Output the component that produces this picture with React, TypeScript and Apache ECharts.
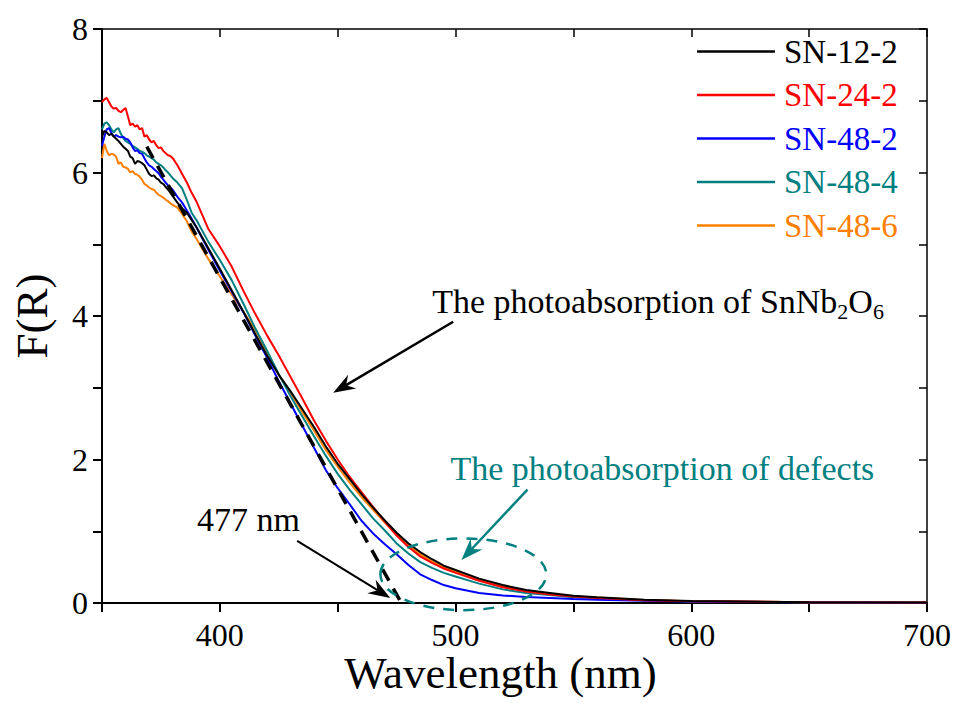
import React, { useEffect, useRef } from "react";
import * as echarts from "echarts";

const FONT = '"Liberation Serif", "Times New Roman", Times, serif';

// Wavelength grid (nm)
const wavelengths = [
  350, 351, 352, 353, 354, 355, 356, 357, 358, 359, 360, 361, 362, 363, 364, 365, 366, 367, 368, 369, 370,
  371, 372, 373, 374, 375, 376, 377, 378, 379, 380, 382, 384, 386, 388, 390,
  395, 400, 405, 410, 415, 420, 425, 430, 435, 440, 445, 450, 455, 460, 465, 470, 475, 480, 485, 490, 495, 500,
  510, 520, 530, 540, 550, 560, 580, 600, 650, 700,
];

const sn12_2 = [
  6.5, 6.58, 6.56, 6.52, 6.54, 6.5, 6.47, 6.44, 6.4, 6.36, 6.33, 6.3, 6.22, 6.2, 6.12, 6.16, 6.15, 6.13, 6.1, 6.04, 5.98,
  5.95, 5.96, 5.92, 5.9, 5.86, 5.84, 5.8, 5.76, 5.72, 5.67, 5.58, 5.5, 5.44, 5.34, 5.24,
  4.95, 4.66, 4.36, 4.06, 3.75, 3.45, 3.18, 2.95, 2.7, 2.45, 2.18, 1.94, 1.73, 1.52, 1.33, 1.15, 0.98, 0.83, 0.71, 0.61, 0.52, 0.46,
  0.34, 0.25, 0.18, 0.14, 0.1, 0.08, 0.045, 0.028, 0.012, 0.006,
];
const sn24_2 = [
  6.98, 7.02, 7.04, 6.98, 6.92, 6.89, 6.9, 6.86, 6.84, 6.87, 6.9, 6.78, 6.66, 6.68, 6.64, 6.66, 6.6, 6.62, 6.5, 6.52, 6.46,
  6.42, 6.44, 6.38, 6.34, 6.35, 6.3, 6.27, 6.24, 6.23, 6.2, 6.1, 5.98, 5.86, 5.72, 5.6,
  5.22, 4.97, 4.69, 4.35, 4.03, 3.73, 3.45, 3.15, 2.85, 2.54, 2.26, 2.0, 1.76, 1.55, 1.34, 1.13, 0.94, 0.78, 0.65, 0.56, 0.48, 0.42,
  0.31, 0.22, 0.16, 0.12, 0.09, 0.07, 0.04, 0.025, 0.012, 0.006,
];
const sn48_2 = [
  6.37, 6.5, 6.6, 6.62, 6.55, 6.5, 6.52, 6.5, 6.49, 6.5, 6.47, 6.46, 6.42, 6.35, 6.3, 6.31, 6.27, 6.26, 6.2, 6.14, 6.1,
  6.08, 6.05, 6.02, 5.99, 5.94, 5.9, 5.86, 5.82, 5.79, 5.76, 5.66, 5.58, 5.47, 5.36, 5.24,
  4.93, 4.63, 4.34, 4.05, 3.73, 3.42, 3.09, 2.78, 2.47, 2.16, 1.85, 1.6, 1.38, 1.15, 0.97, 0.82, 0.68, 0.53, 0.4, 0.32, 0.25, 0.205,
  0.14, 0.105, 0.085, 0.07, 0.055, 0.045, 0.03, 0.02, 0.01, 0.005,
];
const sn48_4 = [
  6.6, 6.68, 6.7, 6.66, 6.6, 6.56, 6.6, 6.62, 6.54, 6.48, 6.44, 6.42, 6.4, 6.37, 6.35, 6.33, 6.3, 6.29, 6.27, 6.24, 6.22,
  6.2, 6.18, 6.14, 6.12, 6.1, 6.07, 6.03, 6.0, 5.96, 5.92, 5.86, 5.78, 5.62, 5.44, 5.34,
  5.04, 4.78, 4.5, 4.17, 3.83, 3.52, 3.19, 2.88, 2.6, 2.32, 2.05, 1.8, 1.58, 1.38, 1.18, 1.01, 0.83, 0.69, 0.57, 0.49, 0.42, 0.37,
  0.27, 0.19, 0.14, 0.11, 0.08, 0.065, 0.04, 0.022, 0.01, 0.005,
];
const sn48_6 = [
  6.2, 6.4, 6.3, 6.24, 6.26, 6.25, 6.22, 6.12, 6.14, 6.08, 6.07, 6.05, 6.0, 6.02, 5.98, 5.97, 5.94, 5.9, 5.84, 5.82, 5.79,
  5.77, 5.76, 5.72, 5.69, 5.67, 5.65, 5.62, 5.6, 5.57, 5.55, 5.51, 5.42, 5.32, 5.18, 5.08,
  4.8, 4.55, 4.3, 4.06, 3.81, 3.5, 3.18, 2.93, 2.66, 2.4, 2.13, 1.9, 1.68, 1.48, 1.3, 1.12, 0.95, 0.8, 0.68, 0.58, 0.5, 0.44,
  0.32, 0.23, 0.17, 0.13, 0.095, 0.075, 0.042, 0.026, 0.011, 0.006,
];

const seriesNames = ["SN-12-2", "SN-24-2", "SN-48-2", "SN-48-4", "SN-48-6"];
const seriesColors = ["#000000", "#ff0000", "#0000ff", "#008080", "#ff8000"];
const seriesValues = [sn12_2, sn24_2, sn48_2, sn48_4, sn48_6];

// Tangent (band-gap extrapolation) line, in data units
const tangentLine = [
  [369, 6.36],
  [477, 0],
];

// Annotation anchors (data units)
const bandGapLabel = "477 nm";
const bandGapLabelAt = [390.3, 1.16];
const bandGapArrow = [
  [432.8, 0.865],
  [472.3, 0.07],
];
const hostLabelAt = [490.1, 4.2];
const hostArrow = [
  [499, 3.92],
  [448.1, 2.93],
];
const defectLabel = "The photoabsorption of defects";
const defectLabelAt = [497.8, 1.88];
const defectArrow = [
  [530.5, 1.58],
  [502.5, 0.6],
];
const defectEllipse = { center: [503.3, 0.4], rx: 35.2, ry: 0.5 };

const TEAL = "#008080";

function arrowElems(p0: number[], p1: number[], color: string, width: number) {
  const dx = p1[0] - p0[0];
  const dy = p1[1] - p0[1];
  const L = Math.hypot(dx, dy);
  const ux = dx / L;
  const uy = dy / L;
  const nx = -uy;
  const ny = ux;
  const headLen = 22;
  const headW = 8;
  const notch = 7;
  const bx = p1[0] - ux * headLen;
  const by = p1[1] - uy * headLen;
  const mx = p1[0] - ux * (headLen - notch);
  const my = p1[1] - uy * (headLen - notch);
  return [
    {
      type: "line",
      silent: true,
      shape: { x1: p0[0], y1: p0[1], x2: mx, y2: my },
      style: { stroke: color, lineWidth: width },
    },
    {
      type: "polygon",
      silent: true,
      shape: {
        points: [
          [p1[0], p1[1]],
          [bx + nx * headW, by + ny * headW],
          [mx, my],
          [bx - nx * headW, by - ny * headW],
        ],
      },
      style: { fill: color },
    },
  ];
}

function measure(text: string, size: number) {
  const c = document.createElement("canvas").getContext("2d");
  if (!c) return text.length * size * 0.45;
  c.font = `${size}px ${FONT}`;
  return c.measureText(text).width;
}

export default function App() {
  const ref = useRef<HTMLDivElement>(null);

  useEffect(() => {
    if (!ref.current) return;
    const chart = echarts.init(ref.current, undefined, { renderer: "svg" });

    const series: any[] = seriesNames.map((name, i) => ({
      name,
      type: "line",
      xAxisIndex: 0,
      yAxisIndex: 0,
      showSymbol: false,
      symbol: "none",
      smooth: false,
      data: wavelengths.map((w, j) => [w, seriesValues[i][j]]),
      lineStyle: { color: seriesColors[i], width: 2 },
      itemStyle: { color: seriesColors[i] },
      z: 2 + (seriesNames.length - i),
    }));
    series.push({
      name: "tangent",
      type: "line",
      showSymbol: false,
      symbol: "none",
      data: tangentLine,
      lineStyle: { color: "#000", width: 3.5, type: [13, 9] },
      z: 10,
      silent: true,
    });

    const axisFont = { fontFamily: FONT, color: "#000" };

    chart.setOption({
      animation: false,
      backgroundColor: "#ffffff",
      grid: {
        left: 102,
        right: 29,
        top: 29,
        bottom: 100,
        containLabel: false,
        outerBoundsMode: "none",
      },
      legend: {
        data: seriesNames.map((n, i) => ({ name: n, textStyle: { color: seriesColors[i] } })),
        orient: "vertical",
        left: 692,
        top: 30,
        icon: "rect",
        itemWidth: 78,
        itemHeight: 2.5,
        itemGap: 10.5,
        textStyle: { fontSize: 33, fontFamily: FONT, lineHeight: 33, padding: [0, 0, 0, 4] },
        selectedMode: false,
      },
      xAxis: [
        {
          type: "value",
          min: 350,
          max: 700,
          interval: 50,
          position: "bottom",
          name: "Wavelength (nm)",
          nameLocation: "middle",
          nameGap: 47,
          nameMoveOverlap: false,
          nameTextStyle: { fontSize: 45, lineHeight: 45, ...axisFont, padding: [0, 28, 0, 0] },
          axisLine: { show: true, onZero: false, lineStyle: { color: "#000", width: 2 } },
          axisTick: { show: true, inside: false, length: 9, lineStyle: { color: "#000", width: 2 } },
          axisLabel: {
            fontSize: 32,
            lineHeight: 32,
            ...axisFont,
            margin: 16,
            showMaxLabel: true,
            showMinLabel: true,
            formatter: (v: number) => (v % 100 === 0 ? String(v) : ""),
          },
          splitLine: { show: false },
        },
        {
          type: "value",
          min: 350,
          max: 700,
          interval: 50,
          position: "top",
          axisLine: { show: true, onZero: false, lineStyle: { color: "#000", width: 1.5 } },
          axisTick: { show: true, inside: true, length: 8, lineStyle: { color: "#000", width: 1.5 } },
          axisLabel: { show: false },
          splitLine: { show: false },
        },
      ],
      yAxis: [
        {
          type: "value",
          min: 0,
          max: 8,
          interval: 1,
          position: "left",
          name: "F(R)",
          nameLocation: "middle",
          nameGap: 48,
          nameRotate: 90,
          nameMoveOverlap: false,
          nameTextStyle: { fontSize: 45, ...axisFont },
          axisLine: { show: true, onZero: false, lineStyle: { color: "#000", width: 2 } },
          axisTick: { show: true, inside: false, length: 9, lineStyle: { color: "#000", width: 2 } },
          axisLabel: {
            fontSize: 32,
            ...axisFont,
            margin: 14,
            showMaxLabel: true,
            formatter: (v: number) => (v % 2 === 0 ? String(v) : ""),
          },
          splitLine: { show: false },
        },
        {
          type: "value",
          min: 0,
          max: 8,
          interval: 1,
          position: "right",
          axisLine: { show: true, onZero: false, lineStyle: { color: "#000", width: 1.5 } },
          axisTick: { show: true, inside: true, length: 8, lineStyle: { color: "#000", width: 1.5 } },
          axisLabel: { show: false },
          splitLine: { show: false },
        },
      ],
      series,
    });

    const px = (p: number[]) => chart.convertToPixel({ xAxisIndex: 0, yAxisIndex: 0 }, p) as number[];

    const graphics: any[] = [];
    // 477 nm label + arrow
    const bl = px(bandGapLabelAt);
    graphics.push({
      type: "text",
      silent: true,
      style: {
        text: bandGapLabel,
        x: bl[0],
        y: bl[1],
        fontSize: 34,
        fontFamily: FONT,
        fill: "#000",
        align: "left",
        verticalAlign: "middle",
      },
    });
    graphics.push(...arrowElems(px(bandGapArrow[0]), px(bandGapArrow[1]), "#000", 2));

    // Host photoabsorption label with subscripts
    const hl = px(hostLabelAt);
    const mainSize = 34;
    const subSize = 22;
    const part1 = "The photoabsorption of SnNb";
    const w1 = measure(part1, mainSize);
    const w2 = measure("2", subSize);
    const w3 = measure("O", mainSize);
    const parts = [
      { t: part1, x: hl[0], size: mainSize, dy: 0 },
      { t: "2", x: hl[0] + w1, size: subSize, dy: 10 },
      { t: "O", x: hl[0] + w1 + w2, size: mainSize, dy: 0 },
      { t: "6", x: hl[0] + w1 + w2 + w3, size: subSize, dy: 10 },
    ];
    parts.forEach((p) =>
      graphics.push({
        type: "text",
        silent: true,
        style: {
          text: p.t,
          x: p.x,
          y: hl[1] + p.dy,
          fontSize: p.size,
          fontFamily: FONT,
          fill: "#000",
          align: "left",
          verticalAlign: "middle",
        },
      })
    );
    graphics.push(...arrowElems(px(hostArrow[0]), px(hostArrow[1]), "#000", 2.5));

    // Defect label, arrow, ellipse
    const dl = px(defectLabelAt);
    graphics.push({
      type: "text",
      silent: true,
      style: {
        text: defectLabel,
        x: dl[0],
        y: dl[1],
        fontSize: 34,
        fontFamily: FONT,
        fill: TEAL,
        align: "left",
        verticalAlign: "middle",
      },
    });
    graphics.push(...arrowElems(px(defectArrow[0]), px(defectArrow[1]), TEAL, 2.5));
    const ec = px(defectEllipse.center);
    const er = px([defectEllipse.center[0] + defectEllipse.rx, defectEllipse.center[1] + defectEllipse.ry]);
    graphics.push({
      type: "ellipse",
      silent: true,
      z: 20,
      shape: { cx: ec[0], cy: ec[1], rx: Math.abs(er[0] - ec[0]), ry: Math.abs(er[1] - ec[1]) },
      style: { stroke: TEAL, fill: "none", lineWidth: 2.5, lineDash: [11, 9] },
    });

    chart.setOption({ graphic: graphics });

    return () => chart.dispose();
  }, []);

  return (
    <div
      ref={ref}
      style={{ position: "fixed", left: 0, top: 0, width: 956, height: 703, background: "#fff" }}
    />
  );
}
